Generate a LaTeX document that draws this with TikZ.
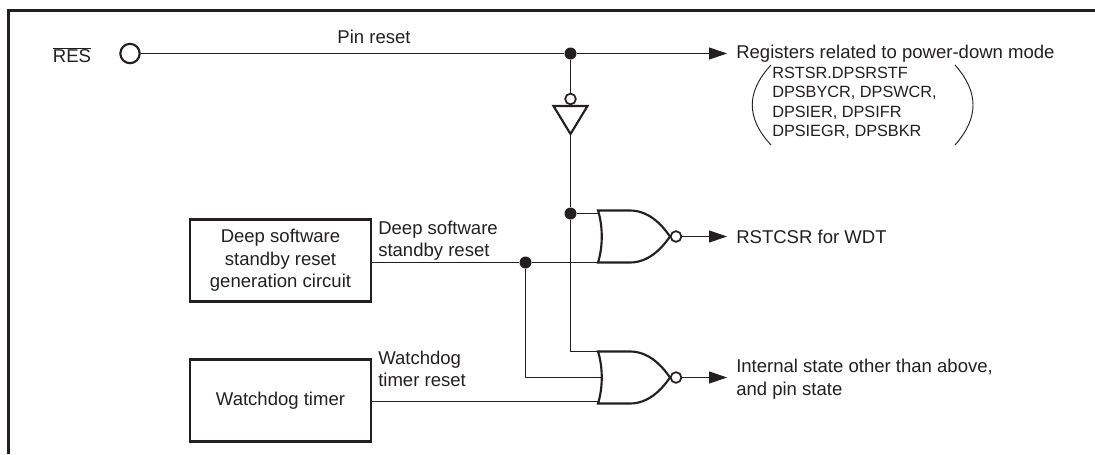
\documentclass[tikz,border=0pt]{standalone}
\usepackage{fontspec}
\setmainfont{Liberation Sans}
\usetikzlibrary{
  arrows.meta,
  calc
}
\definecolor{inkBlack}{HTML}{231F20}

\begin{document}
\begin{tikzpicture}[
  x=0.75pt, y=-0.75pt,
  every node/.style={font=\fontsize{13.9}{16.9}\selectfont, text=inkBlack, inner sep=0pt},
  wire/.style={draw=inkBlack, line width=0.8pt},
  arrow/.style={wire, -{Triangle[length=13.5pt, width=9pt]}},
  solid box/.style={
    rectangle, draw=inkBlack, line width=1.6pt, align=center,
    minimum width=135.5pt, minimum height=61.5pt
  },
  dot/.style={circle, fill=inkBlack, minimum size=9pt},
  bubble/.style={circle, draw=inkBlack, fill=white, line width=1.3pt, minimum size=8pt},
  lbl/.style={anchor=west, align=left},
  norgate/.pic={
    \draw[inkBlack, line width=1.6pt, line join=miter]
      (0,-26) -- (32,-26) .. controls (50,-26) and (63,-13) .. (72,0)
      .. controls (63,13) and (50,26) .. (32,26) -- (0,26)
      .. controls (5,10) and (5,-10) .. (0,-26) -- cycle;
    \coordinate (-top) at (0,-26);
    \coordinate (-mid) at (3.7,0);
    \coordinate (-low) at (1.2,24);
    \coordinate (-bot) at (0,26);
    \node[bubble] (-out) at (78,0) {};
  }
]
 \useasboundingbox (0,0) rectangle (1095,454);

 % Outer frame, open at the bottom and on the right
 \draw[inkBlack, line width=1.9pt] (8.5,454) -- (8.5,10.5) -- (1095,10.5);

 % Pin and top line
 \node (reslbl) at (72,55) {$\overline{\mbox{RES}}$};
 \node[circle, draw=inkBlack, line width=1.6pt, minimum size=14.5pt] (res) at (130,53.5) {};
 \node[dot] (j1) at (570.5,53.5) {};
 \coordinate (regend) at (727,53.5);
 \draw[wire] (res) -- (j1);
 \draw[arrow] (j1) -- (regend);
 \node (pinlbl) at (374,37) {Pin reset};
 \node[lbl] (reglbl) at (736,54) {Registers related to power-down mode};

 % Register list in brackets
 \node[lbl, font=\fontsize{12.2}{14.5}\selectfont] (reglist) at (772,103)
  {RSTSR.DPSRSTF\\DPSBYCR, DPSWCR,\\DPSIER, DPSIFR\\DPSIEGR, DPSBKR};
 \draw[inkBlack, line width=0.7pt] (771,65) .. controls (746,92) and (746,118) .. (771,145);
 \draw[inkBlack, line width=0.7pt] (955,65) .. controls (979,92) and (979,118) .. (955,145);

 % Inverter
 \node[bubble] (invb) at (570.5,99) {};
 \draw[inkBlack, line width=1.6pt, line join=miter] (553.5,106) -- (587.5,106) -- (570.5,134) -- cycle;
 \coordinate (invout) at (570.5,134);
 \draw[wire] (j1) -- (invb);

 % Gates
 \pic (g1) at (598,236.5) {norgate};
 \pic (g2) at (598,377.5) {norgate};
 \node[dot] (j2) at (570.5,213.5) {};
 \draw[wire] (invout) -- (j2);
 \draw[wire] (j2) -- (g1-top |- j2);
 \draw[wire] (j2) |- (g2-top);

 % Source boxes
 \node[solid box] (dsb) at (280.5,260.5) {Deep software\\standby reset\\generation circuit};
 \node[solid box] (wdt) at (280.5,400.5) {\raisebox{-2pt}{Watchdog timer}};
 \node[lbl] (dsblbl) at (378,240.5) {Deep software\\standby reset};
 \node[lbl] (wdtlbl) at (378,369) {Watchdog\\timer reset};

 \node[dot] (j3) at (525.5,262.5) {};
 \draw[wire] (dsb.east |- j3) -- (j3);
 \draw[wire] (j3) -- (g1-bot);
 \draw[wire] (j3) |- (g2-mid);
 \draw[wire] (wdt.east |- g2-low) -- (g2-low);

 % Outputs
 \coordinate (g1end) at (727,236.5);
 \coordinate (g2end) at (727,377.5);
 \draw[arrow] (g1-out) -- (g1end);
 \draw[arrow] (g2-out) -- (g2end);
 \node[lbl] (g1lbl) at (736,237) {RSTCSR for WDT};
 \node[lbl] (g2lbl) at (736,379) {Internal state other than above,\\and pin state};
\end{tikzpicture}
\end{document}
